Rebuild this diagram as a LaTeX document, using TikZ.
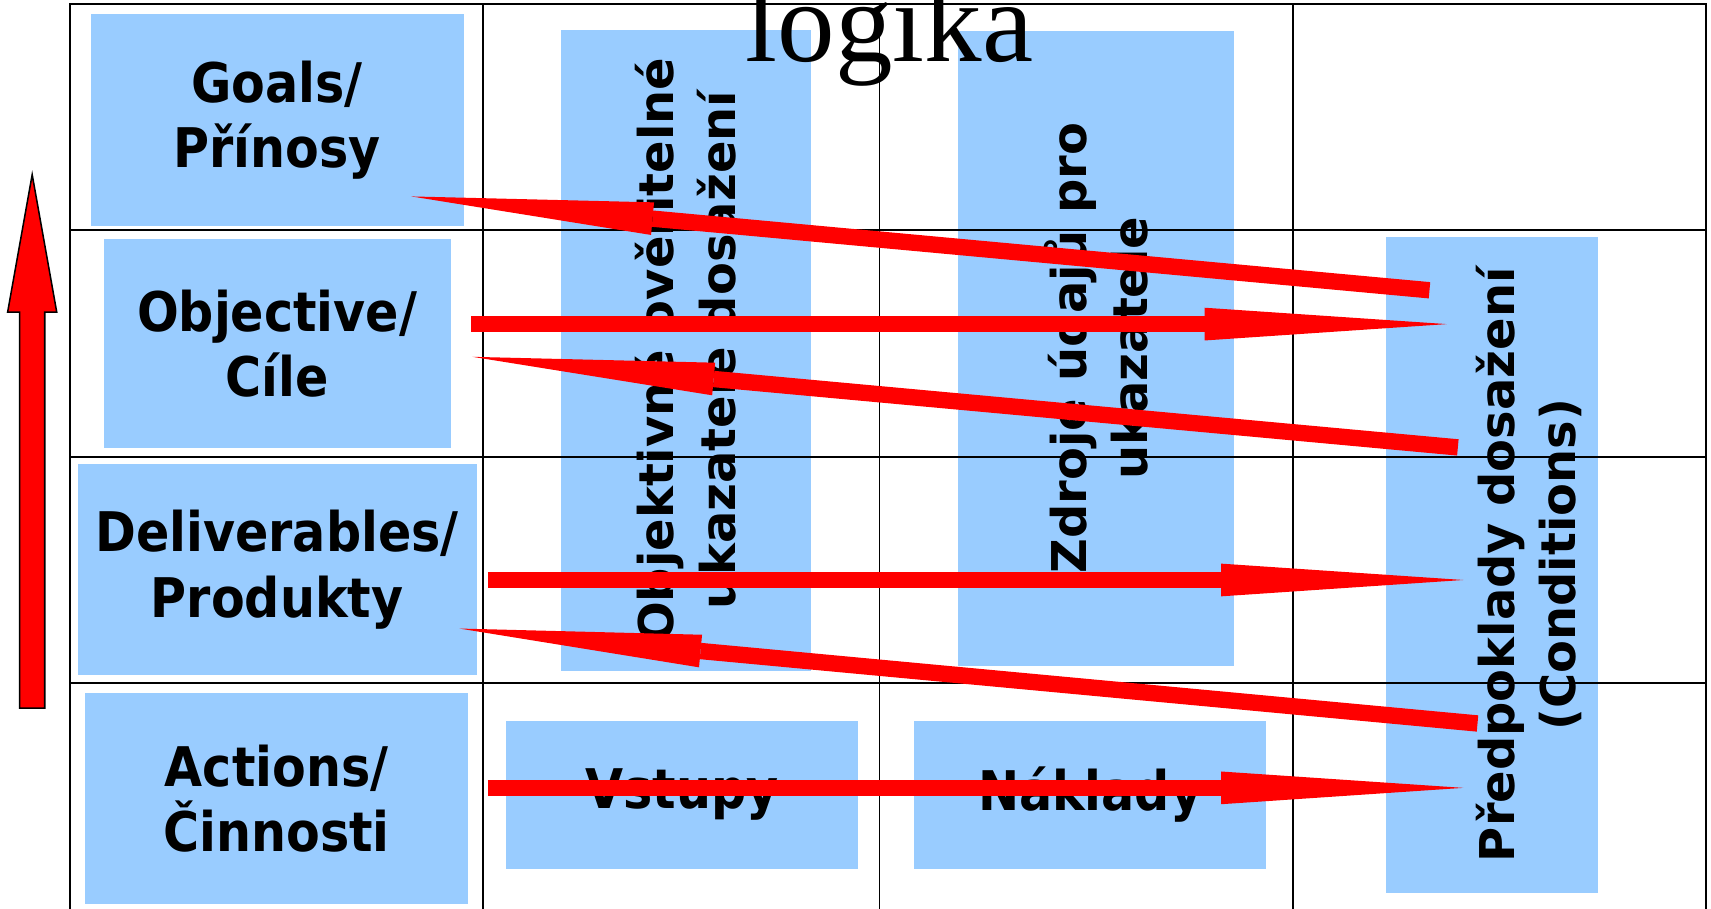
\documentclass[tikz,border=0pt]{standalone}
\usepackage{fontspec}
\newfontfamily\tahoma{DejaVu Sans Condensed}
\newfontfamily\verdana{DejaVu Sans}
\newfontfamily\titlefont{Liberation Serif}
\usetikzlibrary{arrows.meta,positioning}
\definecolor{boxblue}{HTML}{99CCFF}
\tikzset{
    rowbox/.style={rectangle,fill=boxblue,inner sep=0pt,outer sep=0pt,align=center,
        font=\tahoma\bfseries\fontsize{28.5}{34}\selectfont},
    colbox/.style={rectangle,fill=boxblue,inner sep=0pt,outer sep=0pt,align=center,rotate=90,
        font=\verdana\bfseries\fontsize{25}{32}\selectfont},
    coltext/.style={inner sep=0pt,align=center,rotate=90,
        font=\verdana\bfseries\fontsize{25}{32}\selectfont},
    rule/.style={line width=1pt,black},
    flow/.style={-{Triangle[length=4.44cm,width=0.6cm,line width=0pt]},line width=0.3cm,red},
    uparrow/.style={fill=red,draw=black,line width=0.8pt}
}

\begin{document}
\begin{tikzpicture}[x=0.02cm,y=-0.02cm]

                \useasboundingbox (0,0) rectangle (1568,833);

                % rows
                \node[rowbox,minimum width=6.84cm,minimum height=3.88cm] (goals) at (254,110) {Goals/\\Přínosy};
                \node[rowbox,minimum width=6.36cm,minimum height=3.84cm] (objective) at (254,315) {Objective/\\Cíle};
                \node[rowbox,minimum width=7.32cm,minimum height=3.88cm] (deliverables) at (254,522) {Deliverables/\\Produkty};
                \node[rowbox,minimum width=7.02cm,minimum height=3.86cm] (actions) at (253.5,731.5) {Actions/\\Činnosti};

                % columns
                \node[colbox,minimum width=11.76cm,minimum height=4.58cm] (indicators) at (628.5,321) {Objektivně ověřitelné\\ukazatele dosažení};
                \node[colbox,minimum width=11.64cm,minimum height=5.06cm] (sources) at (1004.5,319) {Zdroje údajů pro\\ukazatele};
                \node[colbox,minimum width=12.02cm,minimum height=3.89cm] (conditions) at (1367,517.5) {};
                \node[coltext] (conditions text) at (1401,517.5) {Předpoklady dosažení\\(Conditions)};
                \node[rowbox,minimum width=6.45cm,minimum height=2.7cm] (inputs) at (625,728.5) {Vstupy};
                \node[rowbox,minimum width=6.44cm,minimum height=2.7cm] (costs) at (999,728.5) {Náklady};

                \node[font=\titlefont\fontsize{60}{60}\selectfont,anchor=base] (title) at (815,56) {logika};

                % table
                \draw[rule] (64,840) -- (64,4) -- (1563.5,4) -- (1563.5,840);
                \foreach \x in {442.6,806,1185}
                    \draw[rule] (\x,4) -- (\x,840);
                \foreach \y in {211,418.5,626}
                    \draw[rule] (64,\y) -- (1563.5,\y);

                % big arrow on the left
                \draw[uparrow] (18,649) -- (18,286) -- (7,286) -- (29.5,160) -- (52,286) -- (41,286) -- (41,649) -- cycle;

                % logic arrows
                \coordinate (goals tip)  at (377,180);
                \coordinate (goals tail) at (1310,266);
                \coordinate (obj tail)   at (432,297);
                \coordinate (obj tip)    at (1326,297);
                \coordinate (obj back)   at (1336,410);
                \coordinate (obj end)    at (433,327);
                \coordinate (del tail)   at (447,531.5);
                \coordinate (del tip)    at (1341,531.5);
                \coordinate (del back)   at (1354,663);
                \coordinate (del end)    at (421,576);
                \coordinate (act tail)   at (447,722);
                \coordinate (act tip)    at (1341,722);

                \draw[flow] (goals tail) -- (goals tip);
                \draw[flow] (obj tail) -- (obj tip);
                \draw[flow] (obj back) -- (obj end);
                \draw[flow] (del tail) -- (del tip);
                \draw[flow] (del back) -- (del end);
                \draw[flow] (act tail) -- (act tip);

\end{tikzpicture}
\end{document}
